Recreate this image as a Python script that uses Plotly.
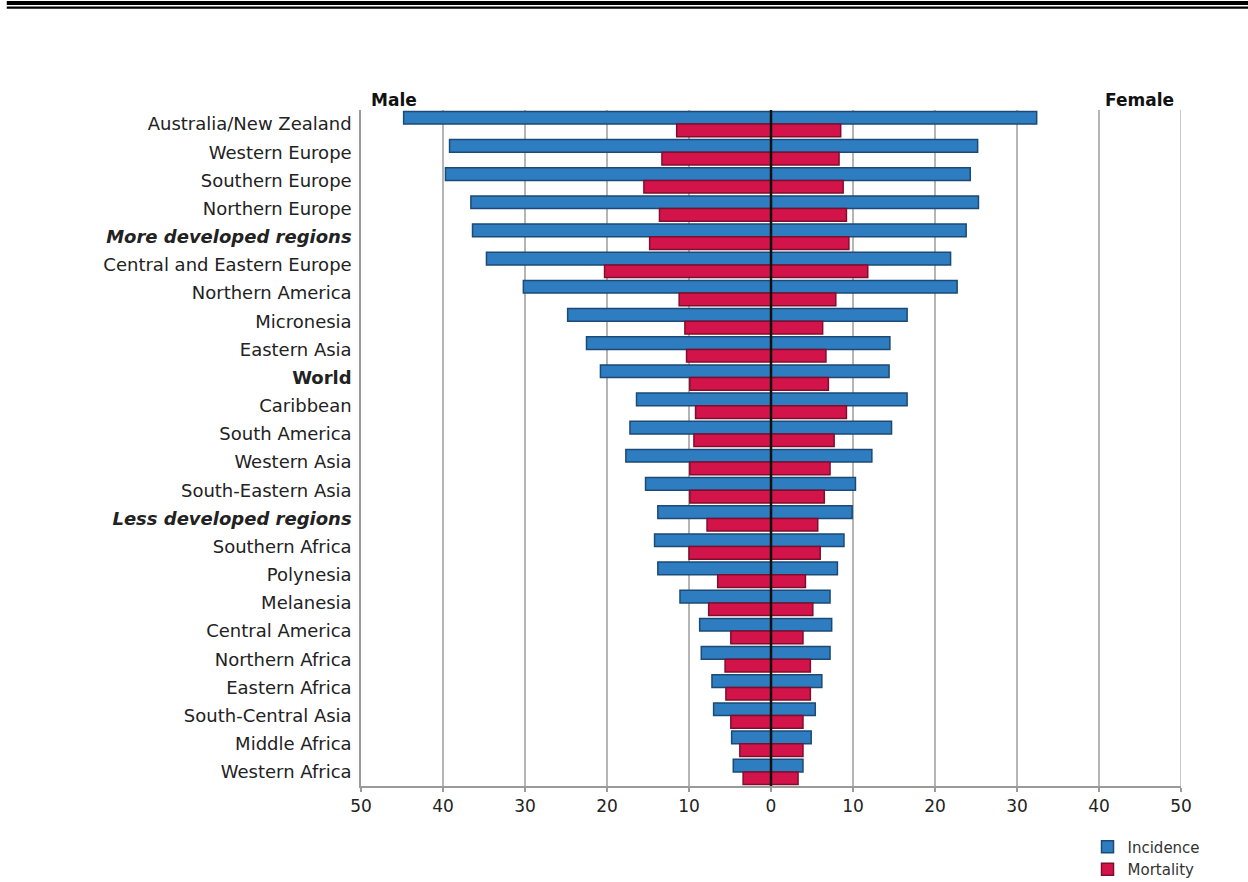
import plotly.graph_objects as go

regions = [
    "Australia/New Zealand", "Western Europe", "Southern Europe", "Northern Europe",
    "More developed regions", "Central and Eastern Europe", "Northern America",
    "Micronesia", "Eastern Asia", "World", "Caribbean", "South America",
    "Western Asia", "South-Eastern Asia", "Less developed regions",
    "Southern Africa", "Polynesia", "Melanesia", "Central America",
    "Northern Africa", "Eastern Africa", "South-Central Asia", "Middle Africa",
    "Western Africa",
]
male_incidence = [44.8, 39.2, 39.7, 36.6, 36.4, 34.7, 30.2, 24.8, 22.5, 20.8, 16.4, 17.2,
                  17.7, 15.3, 13.8, 14.2, 13.8, 11.1, 8.7, 8.5, 7.2, 7.0, 4.8, 4.6]
male_mortality = [11.5, 13.3, 15.5, 13.6, 14.8, 20.3, 11.2, 10.5, 10.3, 9.9, 9.2, 9.4,
                  9.9, 9.9, 7.8, 10.0, 6.5, 7.6, 4.9, 5.6, 5.5, 4.9, 3.8, 3.4]
female_incidence = [32.4, 25.2, 24.3, 25.3, 23.8, 21.9, 22.7, 16.6, 14.5, 14.4, 16.6, 14.7,
                    12.3, 10.3, 9.9, 8.9, 8.1, 7.2, 7.4, 7.2, 6.2, 5.4, 4.9, 3.9]
female_mortality = [8.5, 8.3, 8.8, 9.2, 9.5, 11.8, 7.9, 6.3, 6.7, 7.0, 9.2, 7.7,
                    7.2, 6.5, 5.7, 6.0, 4.2, 5.1, 3.9, 4.8, 4.8, 3.9, 3.9, 3.3]
bold_italic = {"More developed regions", "Less developed regions"}
bold = {"World"}
x_ticks = [-50, -40, -30, -20, -10, 0, 10, 20, 30, 40, 50]

BLUE, BLUE_EDGE = "#2f7dc1", "#1c4a74"
RED, RED_EDGE = "#d3144b", "#7e0f2c"
FONT = "DejaVu Sans"


def fmt(r):
    if r in bold_italic:
        return f"<b><i>{r}</i></b>"
    if r in bold:
        return f"<b>{r}</b>"
    return r


fig = go.Figure()
fig.add_trace(go.Bar(
    y=regions, x=[-v for v in male_incidence], customdata=male_incidence,
    orientation="h", name="Incidence", legendgroup="inc", offsetgroup="inc",
    marker=dict(color=BLUE, line=dict(color=BLUE_EDGE, width=1.5)),
    hovertemplate="%{y}<br>Male incidence: %{customdata}<extra></extra>"))
fig.add_trace(go.Bar(
    y=regions, x=female_incidence, orientation="h", name="Incidence",
    legendgroup="inc", offsetgroup="inc", showlegend=False,
    marker=dict(color=BLUE, line=dict(color=BLUE_EDGE, width=1.5)),
    hovertemplate="%{y}<br>Female incidence: %{x}<extra></extra>"))
fig.add_trace(go.Bar(
    y=regions, x=[-v for v in male_mortality], customdata=male_mortality,
    orientation="h", name="Mortality", legendgroup="mort", offsetgroup="mort",
    marker=dict(color=RED, line=dict(color=RED_EDGE, width=1.5)),
    hovertemplate="%{y}<br>Male mortality: %{customdata}<extra></extra>"))
fig.add_trace(go.Bar(
    y=regions, x=female_mortality, orientation="h", name="Mortality",
    legendgroup="mort", offsetgroup="mort", showlegend=False,
    marker=dict(color=RED, line=dict(color=RED_EDGE, width=1.5)),
    hovertemplate="%{y}<br>Female mortality: %{x}<extra></extra>"))

fig.update_layout(
    width=1248, height=882,
    margin=dict(l=361, r=67, t=110, b=96, autoexpand=False),
    paper_bgcolor="white", plot_bgcolor="white",
    barmode="group", bargap=0.1, bargroupgap=0,
    font=dict(family=FONT, size=18, color="#222222"),
    legend=dict(x=0.886, y=-0.066, xanchor="left", yanchor="top",
                font=dict(size=15, color="#333333"), tracegroupgap=0,
                itemwidth=30, bgcolor="rgba(0,0,0,0)"),
    showlegend=True,
)
fig.update_xaxes(
    range=[-50, 50], tickvals=x_ticks, ticktext=[str(abs(v)) for v in x_ticks],
    showgrid=True, gridcolor="#b5b5b5", gridwidth=1.5, zeroline=False,
    showline=True, linecolor="#9a9a9a", linewidth=2,
    ticks="outside", ticklen=4, tickcolor="#9a9a9a", tickwidth=1.5,
    tickfont=dict(size=17, color="#222222"), fixedrange=True,
)
fig.update_yaxes(
    type="category", categoryorder="array", categoryarray=regions,
    range=[len(regions) - 0.5, -0.5],
    tickmode="array", tickvals=regions, ticktext=[fmt(r) for r in regions],
    showgrid=False, zeroline=False,
    showline=True, linecolor="#9a9a9a", linewidth=1.5,
    ticks="", ticklabelstandoff=4,
    tickfont=dict(size=18, color="#222222"), fixedrange=True,
)

# center reference line at x = 0, drawn over the bars
fig.add_shape(type="line", xref="x", yref="paper", x0=0, x1=0, y0=0, y1=1,
              line=dict(color="#111111", width=2.5), layer="above")
# right-hand frame line at 50
fig.add_shape(type="line", xref="x", yref="paper", x0=50, x1=50, y0=0, y1=1,
              line=dict(color="#b5b5b5", width=1.5), layer="below")

# double rule at the top of the page
fig.add_shape(type="rect", xref="paper", yref="paper",
              x0=-0.432, x1=1.083, y0=1.1553, y1=1.1612,
              fillcolor="black", line=dict(width=0))
fig.add_shape(type="rect", xref="paper", yref="paper",
              x0=-0.432, x1=1.083, y0=1.1497, y1=1.1530,
              fillcolor="black", line=dict(width=0))

fig.add_annotation(text="<b>Male</b>", xref="paper", yref="paper",
                   x=0.010, y=1.0145, xanchor="left", yanchor="middle",
                   showarrow=False, font=dict(size=17, color="#111111"))
fig.add_annotation(text="<b>Female</b>", xref="paper", yref="paper",
                   x=0.994, y=1.0145, xanchor="right", yanchor="middle",
                   showarrow=False, font=dict(size=17, color="#111111"))

fig.write_html(
    "out.html",
    config={"displayModeBar": False},
    post_script="document.body.style.margin='0';document.body.style.overflow='hidden';",
)
